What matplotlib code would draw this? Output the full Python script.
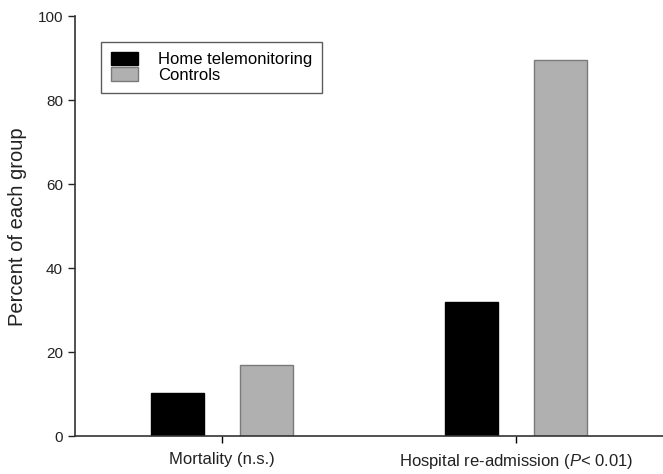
import numpy as np
import matplotlib.pyplot as plt

plt.rcParams['font.family'] = ['Liberation Sans', 'DejaVu Sans']
plt.rcParams['mathtext.fontset'] = 'custom'
plt.rcParams['mathtext.rm'] = 'Liberation Sans'
plt.rcParams['mathtext.it'] = 'Liberation Sans:italic'

categories = ['Mortality (n.s.)', r'Hospital re-admission ($\mathit{P}$< 0.01)']
series_names = ['Home telemonitoring', 'Controls']
telemonitoring = [10.4, 32.1]
controls = [17.0, 89.7]

fig = plt.figure(figsize=(6.63, 4.74), dpi=100)
ax = fig.add_axes([0.113, 0.0795, 0.887, 0.886])

x = np.arange(len(categories))
w = 0.18
off = 0.15
ax.bar(x - off, telemonitoring, w, color='black', edgecolor='black', linewidth=1,
       label=series_names[0])
ax.bar(x + off, controls, w, color='#b0b0b0', edgecolor='#7a7a7a', linewidth=1,
       label=series_names[1])

ax.set_xlim(-0.5, 1.5)
ax.set_ylim(0, 100)
ax.set_yticks([0, 20, 40, 60, 80, 100])
ax.set_xticks(x)
ax.set_xticklabels(categories, fontsize=12, color='#222222')
ax.tick_params(axis='y', labelsize=11, colors='#222222', length=5, width=1)
ax.tick_params(axis='x', length=5, width=1, pad=6)
ax.set_ylabel('Percent of each group', fontsize=14.5, color='#222222', labelpad=8)

for s in ['top', 'right']:
    ax.spines[s].set_visible(False)
for s in ['left', 'bottom']:
    ax.spines[s].set_linewidth(1.2)
    ax.spines[s].set_color('#333333')

leg = ax.legend(loc='upper left', bbox_to_anchor=(101 / 663, 1 - 42 / 474),
                bbox_transform=fig.transFigure, fontsize=12, frameon=True,
                fancybox=False, edgecolor='#333333', labelspacing=0.0,
                handlelength=1.6, handleheight=0.85, handletextpad=1.2,
                borderpad=0.6, borderaxespad=0)
leg.get_frame().set_linewidth(1)

fig.savefig('out.png', dpi=100)
